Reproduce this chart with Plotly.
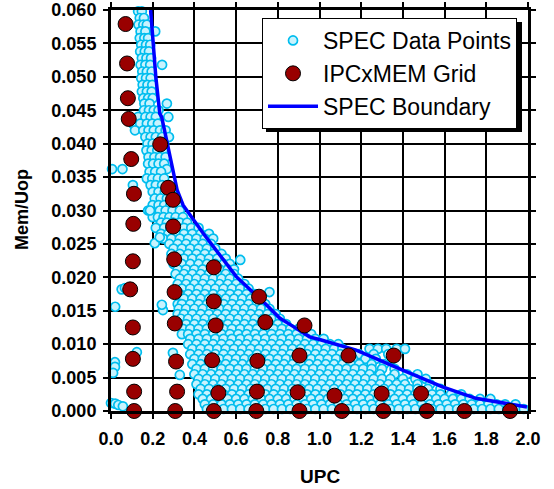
import plotly.graph_objects as go

# ---------------- data ----------------
# SPEC data points: upper narrow band, rows of (Mem/Uop, [UPC values])
spec_band_rows = [
    (0.0598, [0.130, 0.148]),
    (0.0588, [0.138, 0.158]),
    (0.0578, [0.132, 0.155, 0.172]),
    (0.0568, [0.142, 0.165, 0.212]),
    (0.0558, [0.138, 0.160, 0.178]),
    (0.0548, [0.145, 0.168, 0.188]),
    (0.0538, [0.140, 0.162, 0.182]),
    (0.0528, [0.148, 0.170, 0.192]),
    (0.0518, [0.142, 0.165, 0.188, 0.245]),
    (0.0508, [0.150, 0.172, 0.195]),
    (0.0498, [0.145, 0.168, 0.190]),
    (0.0488, [0.152, 0.175, 0.198]),
    (0.0478, [0.148, 0.172, 0.195]),
    (0.0468, [0.155, 0.178, 0.200]),
    (0.0460, [0.160, 0.185, 0.268]),
    (0.0450, [0.158, 0.182, 0.205, 0.228]),
    (0.0440, [0.130, 0.165, 0.190, 0.215, 0.275]),
    (0.0430, [0.105, 0.140, 0.172, 0.198, 0.225]),
    (0.0420, [0.115, 0.155, 0.180, 0.205, 0.235, 0.262]),
    (0.0410, [0.165, 0.190, 0.215, 0.245, 0.278]),
    (0.0400, [0.175, 0.200, 0.228, 0.255]),
    (0.0390, [0.170, 0.195, 0.222, 0.250]),
    (0.0380, [0.180, 0.208, 0.235, 0.262]),
    (0.0370, [0.178, 0.202, 0.228, 0.255]),
    (0.0362, [0.005, 0.055, 0.268]),
    (0.0358, [0.185, 0.212, 0.240]),
    (0.0348, [0.172, 0.198, 0.225, 0.255]),
    (0.0338, [0.105, 0.190, 0.215, 0.245, 0.275]),
    (0.0328, [0.200, 0.228, 0.258, 0.290]),
    (0.0318, [0.210, 0.238, 0.268, 0.300]),
    (0.0308, [0.200, 0.228, 0.255, 0.285, 0.320]),
    (0.0300, [0.178, 0.234, 0.262, 0.295, 0.330]),
    (0.0290, [0.200, 0.225, 0.252, 0.280, 0.310, 0.345]),
    (0.0282, [0.240, 0.268, 0.298, 0.330, 0.365]),
    (0.0274, [0.215, 0.255, 0.285, 0.315, 0.350, 0.385, 0.420]),
]

# SPEC data points: main dense cloud
spec_mass_rows = [
    (0.0265, [0.240, 0.275, 0.31, 0.35, 0.39, 0.43, 0.47]),
    (0.0258, [0.250, 0.29, 0.33, 0.37, 0.41, 0.45, 0.49]),
    (0.0250, [0.28, 0.32, 0.36, 0.40, 0.44, 0.48]),
    (0.0243, [0.30, 0.34, 0.38, 0.42, 0.46, 0.50]),
    (0.0235, [0.29, 0.33, 0.37, 0.41, 0.45, 0.49, 0.53]),
    (0.0228, [0.31, 0.35, 0.39, 0.43, 0.47, 0.51, 0.55]),
    (0.0220, [0.30, 0.34, 0.38, 0.42, 0.46, 0.50, 0.54, 0.57]),
    (0.0212, [0.32, 0.36, 0.40, 0.44, 0.48, 0.52, 0.56, 0.59]),
    (0.0205, [0.31, 0.35, 0.39, 0.43, 0.47, 0.51, 0.55, 0.59]),
    (0.0198, [0.33, 0.37, 0.41, 0.45, 0.49, 0.53, 0.57, 0.61]),
    (0.0190, [0.32, 0.36, 0.40, 0.44, 0.48, 0.52, 0.56, 0.60, 0.64]),
    (0.0183, [0.34, 0.38, 0.42, 0.46, 0.50, 0.54, 0.58, 0.62, 0.66]),
    (0.0175, [0.33, 0.37, 0.41, 0.45, 0.49, 0.53, 0.57, 0.61, 0.65, 0.69]),
    (0.0168, [0.35, 0.39, 0.43, 0.47, 0.51, 0.55, 0.59, 0.63, 0.67, 0.71]),
    (0.0160, [0.32, 0.34, 0.38, 0.42, 0.46, 0.50, 0.54, 0.58, 0.62, 0.66, 0.70, 0.74]),
    (0.0153, [0.325, 0.36, 0.40, 0.44, 0.48, 0.52, 0.56, 0.60, 0.64, 0.68, 0.72, 0.76]),
    (0.0145, [0.32, 0.35, 0.39, 0.43, 0.47, 0.51, 0.55, 0.59, 0.63, 0.67, 0.71, 0.75, 0.79]),
    (0.0138, [0.335, 0.37, 0.41, 0.45, 0.49, 0.53, 0.57, 0.61, 0.65, 0.69, 0.73, 0.77, 0.81]),
    (0.0130, [0.33, 0.36, 0.40, 0.44, 0.48, 0.52, 0.56, 0.60, 0.64, 0.68, 0.72, 0.76, 0.80, 0.84]),
    (0.0123, [0.345, 0.38, 0.42, 0.46, 0.50, 0.54, 0.58, 0.62, 0.66, 0.70, 0.74, 0.78, 0.82, 0.86, 0.90]),
    (0.0115, [0.34, 0.37, 0.41, 0.45, 0.49, 0.53, 0.57, 0.61, 0.65, 0.69, 0.73, 0.77, 0.81, 0.85, 0.89, 0.93, 0.96]),
    (0.0108, [0.38, 0.42, 0.46, 0.50, 0.54, 0.58, 0.62, 0.66, 0.70, 0.74, 0.78, 0.82, 0.86, 0.90, 0.94, 0.98, 1.02]),
    (0.0100, [0.37, 0.41, 0.45, 0.49, 0.53, 0.57, 0.61, 0.65, 0.69, 0.73, 0.77, 0.81, 0.85, 0.89, 0.93, 0.97, 1.01, 1.05, 1.09]),
    (0.0093, [0.39, 0.43, 0.47, 0.51, 0.55, 0.59, 0.63, 0.67, 0.71, 0.75, 0.79, 0.83, 0.87, 0.91, 0.95, 0.99, 1.03, 1.07, 1.11,
              1.24, 1.28, 1.32, 1.37, 1.41]),
    (0.0085, [0.38, 0.42, 0.46, 0.50, 0.54, 0.58, 0.62, 0.66, 0.70, 0.74, 0.78, 0.82, 0.86, 0.90, 0.94, 0.98, 1.02, 1.06, 1.10,
              1.14, 1.19, 1.26, 1.33]),
    (0.0078, [0.40, 0.44, 0.48, 0.52, 0.56, 0.60, 0.64, 0.68, 0.72, 0.76, 0.80, 0.84, 0.88, 0.92, 0.96, 1.00, 1.04, 1.08, 1.12,
              1.16, 1.22, 1.27, 1.35]),
    (0.0070, [0.39, 0.43, 0.47, 0.51, 0.55, 0.59, 0.63, 0.67, 0.71, 0.75, 0.79, 0.83, 0.87, 0.91, 0.95, 0.99, 1.03, 1.07, 1.11,
              1.15, 1.19, 1.25, 1.31]),
    (0.0063, [0.41, 0.45, 0.49, 0.53, 0.57, 0.61, 0.65, 0.69, 0.73, 0.77, 0.81, 0.85, 0.89, 0.93, 0.97, 1.01, 1.05, 1.09, 1.13,
              1.17, 1.21, 1.25, 1.30, 1.36]),
    (0.0055, [0.40, 0.44, 0.48, 0.52, 0.56, 0.60, 0.64, 0.68, 0.72, 0.76, 0.80, 0.84, 0.88, 0.92, 0.96, 1.00, 1.04, 1.08, 1.12,
              1.16, 1.20, 1.24, 1.29, 1.36, 1.42, 1.47]),
    (0.0048, [0.42, 0.46, 0.50, 0.54, 0.58, 0.62, 0.66, 0.70, 0.74, 0.78, 0.82, 0.86, 0.90, 0.94, 0.98, 1.02, 1.06, 1.10, 1.14,
              1.18, 1.22, 1.26, 1.30, 1.34, 1.40, 1.46, 1.51]),
    (0.0040, [0.41, 0.45, 0.49, 0.53, 0.57, 0.61, 0.65, 0.69, 0.73, 0.77, 0.81, 0.85, 0.89, 0.93, 0.97, 1.01, 1.05, 1.09, 1.13,
              1.17, 1.21, 1.25, 1.29, 1.33, 1.37, 1.41, 1.47, 1.53]),
    (0.0033, [0.43, 0.47, 0.51, 0.55, 0.59, 0.63, 0.67, 0.71, 0.75, 0.79, 0.83, 0.87, 0.91, 0.95, 0.99, 1.03, 1.07, 1.11, 1.15,
              1.19, 1.23, 1.27, 1.31, 1.35, 1.39, 1.43, 1.47, 1.52, 1.58]),
    (0.0025, [0.42, 0.46, 0.50, 0.54, 0.58, 0.62, 0.66, 0.70, 0.74, 0.78, 0.82, 0.86, 0.90, 0.94, 0.98, 1.02, 1.06, 1.10, 1.14,
              1.18, 1.22, 1.26, 1.30, 1.34, 1.38, 1.42, 1.46, 1.50, 1.54, 1.58, 1.63, 1.68]),
    (0.0018, [0.44, 0.48, 0.52, 0.56, 0.60, 0.64, 0.68, 0.72, 0.76, 0.80, 0.84, 0.88, 0.92, 0.96, 1.00, 1.04, 1.08, 1.12, 1.16,
              1.20, 1.24, 1.28, 1.32, 1.36, 1.40, 1.44, 1.48, 1.52, 1.56, 1.60, 1.64, 1.68, 1.72, 1.77, 1.82]),
    (0.0010, [0.45, 0.49, 0.53, 0.57, 0.61, 0.65, 0.69, 0.73, 0.77, 0.81, 0.85, 0.89, 0.93, 0.97, 1.01, 1.05, 1.09, 1.13, 1.17,
              1.21, 1.25, 1.29, 1.33, 1.37, 1.41, 1.45, 1.49, 1.53, 1.57, 1.61, 1.65, 1.69, 1.73, 1.77, 1.81, 1.85, 1.89, 1.94]),
    (0.0003, [0.46, 0.50, 0.54, 0.58, 0.62, 0.66, 0.70, 0.74, 0.78, 0.82, 0.86, 0.90, 0.94, 0.98, 1.02, 1.06, 1.10, 1.14, 1.18,
              1.22, 1.26, 1.30, 1.34, 1.38, 1.42, 1.46, 1.50, 1.54, 1.58, 1.62, 1.66, 1.70, 1.74, 1.78, 1.82, 1.86, 1.90, 1.94, 1.98]),
]

# SPEC data points: isolated points
spec_out_x = [0.020, 0.051, 0.067, 0.019, 0.019, 0.010, 0.000, 0.020, 0.035, 0.057,
              0.124, 0.249, 0.244, 0.330, 0.210, 0.234, 0.297, 0.620, 0.760, 0.187]
spec_out_y = [0.0156, 0.0182, 0.0184, 0.0073, 0.0066, 0.0057, 0.0012, 0.0011, 0.0009, 0.0007,
              0.0088, 0.0151, 0.0159, 0.0054, 0.0251, 0.0260, 0.0087, 0.0226, 0.0178, 0.0300]

# IPCxMEM grid points
grid_x = [0.070, 0.077, 0.081, 0.085, 0.097, 0.110, 0.107, 0.105, 0.092, 0.105, 0.105, 0.111, 0.111,
          0.236, 0.274, 0.297, 0.298, 0.303, 0.305, 0.306, 0.312, 0.317, 0.308,
          0.493, 0.493, 0.502, 0.485, 0.515, 0.493,
          0.710, 0.740, 0.702, 0.700, 0.697,
          0.928, 0.904, 0.895, 0.904,
          1.139, 1.072, 1.107,
          1.356, 1.298, 1.306,
          1.487, 1.515,
          1.695,
          1.914]
grid_y = [0.0579, 0.0520, 0.0468, 0.0437, 0.0377, 0.0325, 0.0280, 0.0224, 0.0182, 0.0125, 0.0078, 0.0029, 0.0,
          0.0399, 0.0334, 0.0316, 0.0276, 0.0227, 0.0178, 0.0131, 0.0074, 0.0029, 0.0,
          0.0215, 0.0164, 0.0128, 0.0076, 0.0027, 0.0,
          0.0171, 0.0133, 0.0075, 0.0029, 0.0,
          0.0128, 0.0083, 0.0028, 0.0,
          0.0083, 0.0023, 0.0,
          0.0083, 0.0026, 0.0,
          0.0026, 0.0,
          0.0,
          0.0]

# SPEC boundary
boundary_x = [0.190, 0.215, 0.234, 0.243, 0.317, 0.338, 0.346, 0.442, 0.601, 0.745, 0.809,
              0.856, 0.952, 1.000, 1.176, 1.399, 1.590, 1.750, 1.893, 1.995]
boundary_y = [0.0600, 0.0500, 0.0445, 0.0440, 0.0331, 0.0316, 0.0308, 0.0266, 0.0201, 0.0159, 0.0139,
              0.0130, 0.0111, 0.0107, 0.0091, 0.0061, 0.0036, 0.0019, 0.0012, 0.0006]

# ---------------- figure ----------------
spec_x, spec_y = [], []
for rows in (spec_band_rows, spec_mass_rows):
    for yv, xs in rows:
        for xv in xs:
            spec_x.append(xv)
            spec_y.append(yv)
spec_x += spec_out_x
spec_y += spec_out_y

FONT = "Liberation Sans"

fig = go.Figure()
fig.add_trace(go.Scatter(
    x=spec_x, y=spec_y, mode="markers", name="SPEC Data Points",
    marker=dict(size=9, color="#C8F3FE", line=dict(color="#00BDEE", width=1.7)),
    cliponaxis=False, legendgroup="a", legendrank=1,
))
fig.add_trace(go.Scatter(
    x=boundary_x, y=boundary_y, mode="lines", name="SPEC Boundary",
    line=dict(color="#0000FF", width=3.5),
    legendgroup="c", legendrank=3,
))
fig.add_trace(go.Scatter(
    x=grid_x, y=grid_y, mode="markers", name="IPCxMEM Grid",
    marker=dict(size=15, color="#990000", line=dict(color="black", width=1)),
    cliponaxis=False, legendgroup="b", legendrank=2,
))

W, H = 554, 489
# plot area in page pixels: x 111..528, y 10..411
ml, mt, mr, mb = 111, 10, W - 528, H - 411
PW, PH = W - ml - mr, H - mt - mb


def px_x(p):
    return (p - ml) / PW


def px_y(p):
    return (H - mb - p) / PH


fig.update_layout(
    width=W, height=H,
    margin=dict(l=ml, r=mr, t=mt, b=mb, autoexpand=False),
    paper_bgcolor="white", plot_bgcolor="white",
    font=dict(family=FONT, color="black"),
    showlegend=True,
    legend=dict(
        x=px_x(262), y=px_y(18), xanchor="left", yanchor="top",
        bgcolor="white", bordercolor="black", borderwidth=1,
        font=dict(family=FONT, size=23, color="black"),
        tracegroupgap=0, itemwidth=50,
    ),
)
fig.update_xaxes(
    range=[0, 2.0], dtick=0.2, tick0=0, tickformat=".1f",
    showgrid=True, gridcolor="black", gridwidth=1.5,
    showline=True, linecolor="black", linewidth=3, mirror="ticks",
    ticks="outside", ticklen=5, tickwidth=2, tickcolor="black",
    zeroline=False, automargin=False, ticklabelstandoff=4,
    tickfont=dict(family=FONT, size=18, weight="bold", color="black"),
)
fig.update_yaxes(
    range=[0, 0.06], dtick=0.005, tick0=0, tickformat=".3f",
    showgrid=True, gridcolor="black", gridwidth=1.5,
    showline=True, linecolor="black", linewidth=3, mirror="ticks",
    ticks="outside", ticklen=5, tickwidth=2, tickcolor="black",
    zeroline=False, automargin=False, ticklabelstandoff=3,
    tickfont=dict(family=FONT, size=18, weight="bold", color="black"),
)

# axis titles
fig.add_annotation(text="<b>UPC</b>", xref="paper", yref="paper", x=px_x(320), y=px_y(476),
                   xanchor="center", yanchor="middle", showarrow=False,
                   font=dict(family=FONT, size=19, color="black"))
fig.add_annotation(text="<b>Mem/Uop</b>", xref="paper", yref="paper", x=px_x(22), y=px_y(210),
                   xanchor="center", yanchor="middle", showarrow=False, textangle=-90,
                   font=dict(family=FONT, size=18, color="black"))

# legend drop shadow
fig.add_shape(type="rect", xref="paper", yref="paper",
              x0=px_x(266), x1=px_x(522), y0=px_y(132), y1=px_y(22),
              fillcolor="black", line=dict(width=0), layer="above")

fig.write_html(
    "out.html",
    config={"displayModeBar": False},
    post_script="document.body.style.margin='0px';document.body.style.overflow='hidden';",
)
